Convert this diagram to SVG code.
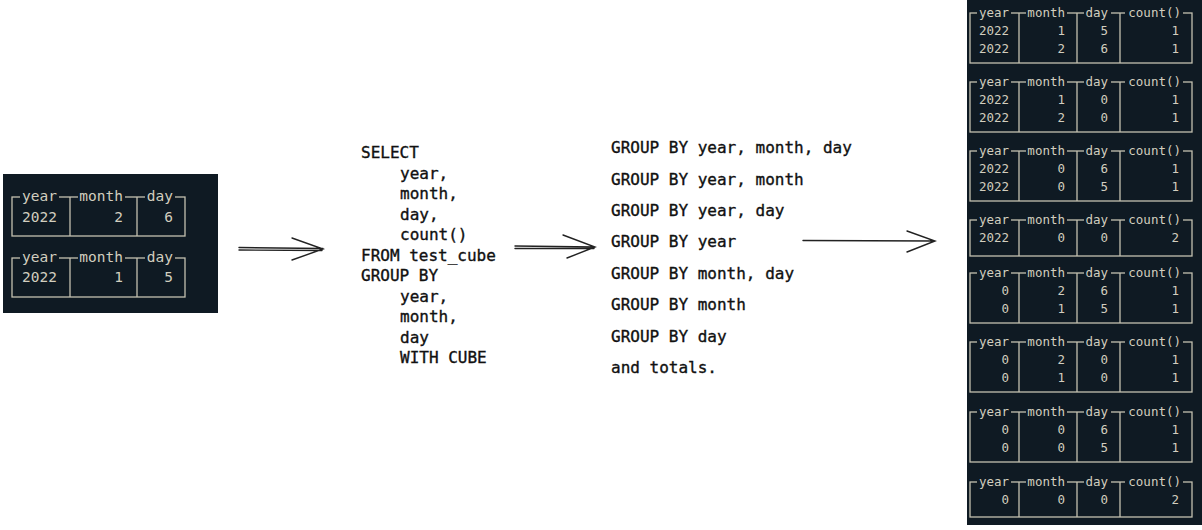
<svg xmlns="http://www.w3.org/2000/svg" width="1202" height="530" viewBox="0 0 1202 530">
<style>
.panel{fill:#0f1a23}
.mask{fill:#0f1a23}
.frame{fill:none;stroke:#c4c0b0;stroke-width:1.3}
.hd,.cell{font-family:"DejaVu Sans Mono","Liberation Mono",monospace;fill:#d2cebf;text-anchor:end}
.r{font-size:12.5px}
.l{font-size:14.5px}
.code{font-family:"DejaVu Sans Mono","Liberation Mono",monospace;font-size:16px;fill:#111;stroke:#111;stroke-width:0.35}
.arr{fill:none;stroke:#222;stroke-width:1.4;stroke-linecap:round}
</style>
<rect width="1202" height="530" fill="#ffffff"/>

<g id="input-table">
  <rect class="panel" x="3" y="174" width="215" height="139"/>
  <!-- table 1 -->
  <rect class="frame" x="12" y="197" width="173" height="39"/>
  <line class="frame" x1="70" y1="197" x2="70" y2="236"/>
  <line class="frame" x1="137" y1="197" x2="137" y2="236"/>
  <rect class="mask" x="20" y="194" width="39" height="6"/>
  <rect class="mask" x="78" y="194" width="47" height="6"/>
  <rect class="mask" x="145" y="194" width="30" height="6"/>
  <text class="hd l" x="57" y="201">year</text>
  <text class="hd l" x="123" y="201">month</text>
  <text class="hd l" x="173" y="201">day</text>
  <text class="cell l" x="57" y="222">2022</text>
  <text class="cell l" x="123" y="222">2</text>
  <text class="cell l" x="173" y="222">6</text>
  <!-- table 2 -->
  <rect class="frame" x="12" y="258" width="173" height="39"/>
  <line class="frame" x1="70" y1="258" x2="70" y2="297"/>
  <line class="frame" x1="137" y1="258" x2="137" y2="297"/>
  <rect class="mask" x="20" y="255" width="39" height="6"/>
  <rect class="mask" x="78" y="255" width="47" height="6"/>
  <rect class="mask" x="145" y="255" width="30" height="6"/>
  <text class="hd l" x="57" y="262">year</text>
  <text class="hd l" x="123" y="262">month</text>
  <text class="hd l" x="173" y="262">day</text>
  <text class="cell l" x="57" y="282">2022</text>
  <text class="cell l" x="123" y="282">1</text>
  <text class="cell l" x="173" y="282">5</text>
</g>

<g id="sql-query">
  <text class="code">
    <tspan x="361" y="158">SELECT</tspan>
    <tspan x="400" y="178.5">year,</tspan>
    <tspan x="400" y="199">month,</tspan>
    <tspan x="400" y="219.5">day,</tspan>
    <tspan x="400" y="240">count()</tspan>
    <tspan x="361" y="260.5">FROM test_cube</tspan>
    <tspan x="361" y="281">GROUP BY</tspan>
    <tspan x="400" y="301.5">year,</tspan>
    <tspan x="400" y="322">month,</tspan>
    <tspan x="400" y="342.5">day</tspan>
    <tspan x="400" y="363">WITH CUBE</tspan>
  </text>
</g>

<g id="grouping-sets">
  <text class="code">
    <tspan x="611" y="153">GROUP BY year, month, day</tspan>
    <tspan x="611" y="184.5">GROUP BY year, month</tspan>
    <tspan x="611" y="216">GROUP BY year, day</tspan>
    <tspan x="611" y="247">GROUP BY year</tspan>
    <tspan x="611" y="279">GROUP BY month, day</tspan>
    <tspan x="611" y="310">GROUP BY month</tspan>
    <tspan x="611" y="341.5">GROUP BY day</tspan>
    <tspan x="611" y="373">and totals.</tspan>
  </text>
</g>

<g id="result-tables">
  <rect class="panel" x="967" y="0" width="235" height="525"/>
  <!-- frames -->
  <g class="frame">
    <rect x="970" y="13" width="222" height="50"/>
    <path d="M1019 13V63M1077 13V63M1120 13V63"/>
    <rect x="970" y="82" width="222" height="50"/>
    <path d="M1019 82V132M1077 82V132M1120 82V132"/>
    <rect x="970" y="151" width="222" height="50"/>
    <path d="M1019 151V201M1077 151V201M1120 151V201"/>
    <rect x="970" y="220" width="222" height="36"/>
    <path d="M1019 220V256M1077 220V256M1120 220V256"/>
    <rect x="970" y="273" width="222" height="50"/>
    <path d="M1019 273V323M1077 273V323M1120 273V323"/>
    <rect x="970" y="342" width="222" height="50"/>
    <path d="M1019 342V392M1077 342V392M1120 342V392"/>
    <rect x="970" y="412" width="222" height="50"/>
    <path d="M1019 412V462M1077 412V462M1120 412V462"/>
    <rect x="970" y="482" width="222" height="35"/>
    <path d="M1019 482V517M1077 482V517M1120 482V517"/>
  </g>
  <!-- header masks -->
  <g class="mask">
    <rect x="977" y="10" width="34" height="6"/><rect x="1026" y="10" width="41" height="6"/><rect x="1084" y="10" width="27" height="6"/><rect x="1125" y="10" width="58" height="6"/>
    <rect x="977" y="79" width="34" height="6"/><rect x="1026" y="79" width="41" height="6"/><rect x="1084" y="79" width="27" height="6"/><rect x="1125" y="79" width="58" height="6"/>
    <rect x="977" y="148" width="34" height="6"/><rect x="1026" y="148" width="41" height="6"/><rect x="1084" y="148" width="27" height="6"/><rect x="1125" y="148" width="58" height="6"/>
    <rect x="977" y="217" width="34" height="6"/><rect x="1026" y="217" width="41" height="6"/><rect x="1084" y="217" width="27" height="6"/><rect x="1125" y="217" width="58" height="6"/>
    <rect x="977" y="270" width="34" height="6"/><rect x="1026" y="270" width="41" height="6"/><rect x="1084" y="270" width="27" height="6"/><rect x="1125" y="270" width="58" height="6"/>
    <rect x="977" y="339" width="34" height="6"/><rect x="1026" y="339" width="41" height="6"/><rect x="1084" y="339" width="27" height="6"/><rect x="1125" y="339" width="58" height="6"/>
    <rect x="977" y="409" width="34" height="6"/><rect x="1026" y="409" width="41" height="6"/><rect x="1084" y="409" width="27" height="6"/><rect x="1125" y="409" width="58" height="6"/>
    <rect x="977" y="479" width="34" height="6"/><rect x="1026" y="479" width="41" height="6"/><rect x="1084" y="479" width="27" height="6"/><rect x="1125" y="479" width="58" height="6"/>
  </g>
  <!-- headers -->
  <g class="hd r">
    <text x="1009" y="17">year</text><text x="1065" y="17">month</text><text x="1108" y="17">day</text><text x="1181" y="17">count()</text>
    <text x="1009" y="86">year</text><text x="1065" y="86">month</text><text x="1108" y="86">day</text><text x="1181" y="86">count()</text>
    <text x="1009" y="155">year</text><text x="1065" y="155">month</text><text x="1108" y="155">day</text><text x="1181" y="155">count()</text>
    <text x="1009" y="224">year</text><text x="1065" y="224">month</text><text x="1108" y="224">day</text><text x="1181" y="224">count()</text>
    <text x="1009" y="277">year</text><text x="1065" y="277">month</text><text x="1108" y="277">day</text><text x="1181" y="277">count()</text>
    <text x="1009" y="346">year</text><text x="1065" y="346">month</text><text x="1108" y="346">day</text><text x="1181" y="346">count()</text>
    <text x="1009" y="416">year</text><text x="1065" y="416">month</text><text x="1108" y="416">day</text><text x="1181" y="416">count()</text>
    <text x="1009" y="486">year</text><text x="1065" y="486">month</text><text x="1108" y="486">day</text><text x="1181" y="486">count()</text>
  </g>
  <!-- cells -->
  <g class="cell r">
    <text x="1009" y="35">2022</text><text x="1065" y="35">1</text><text x="1108" y="35">5</text><text x="1179" y="35">1</text>
    <text x="1009" y="53">2022</text><text x="1065" y="53">2</text><text x="1108" y="53">6</text><text x="1179" y="53">1</text>
    <text x="1009" y="104">2022</text><text x="1065" y="104">1</text><text x="1108" y="104">0</text><text x="1179" y="104">1</text>
    <text x="1009" y="122">2022</text><text x="1065" y="122">2</text><text x="1108" y="122">0</text><text x="1179" y="122">1</text>
    <text x="1009" y="173">2022</text><text x="1065" y="173">0</text><text x="1108" y="173">6</text><text x="1179" y="173">1</text>
    <text x="1009" y="191">2022</text><text x="1065" y="191">0</text><text x="1108" y="191">5</text><text x="1179" y="191">1</text>
    <text x="1009" y="242">2022</text><text x="1065" y="242">0</text><text x="1108" y="242">0</text><text x="1179" y="242">2</text>
    <text x="1009" y="295">0</text><text x="1065" y="295">2</text><text x="1108" y="295">6</text><text x="1179" y="295">1</text>
    <text x="1009" y="313">0</text><text x="1065" y="313">1</text><text x="1108" y="313">5</text><text x="1179" y="313">1</text>
    <text x="1009" y="364">0</text><text x="1065" y="364">2</text><text x="1108" y="364">0</text><text x="1179" y="364">1</text>
    <text x="1009" y="382">0</text><text x="1065" y="382">1</text><text x="1108" y="382">0</text><text x="1179" y="382">1</text>
    <text x="1009" y="434">0</text><text x="1065" y="434">0</text><text x="1108" y="434">6</text><text x="1179" y="434">1</text>
    <text x="1009" y="452">0</text><text x="1065" y="452">0</text><text x="1108" y="452">5</text><text x="1179" y="452">1</text>
    <text x="1009" y="504">0</text><text x="1065" y="504">0</text><text x="1108" y="504">0</text><text x="1179" y="504">2</text>
  </g>
</g>

<g id="connectors">
  <path class="arr" d="M239 247.5L323 248.5M239 250L322 250.5M292 238L323 249L292 260"/>
  <path class="arr" d="M515 246L595 247M515 248.5L594 248.5M563 235L595 247L567 258"/>
  <path class="arr" d="M803 240.5L935 241M907 231L935 241L907 252"/>
</g>
</svg>
